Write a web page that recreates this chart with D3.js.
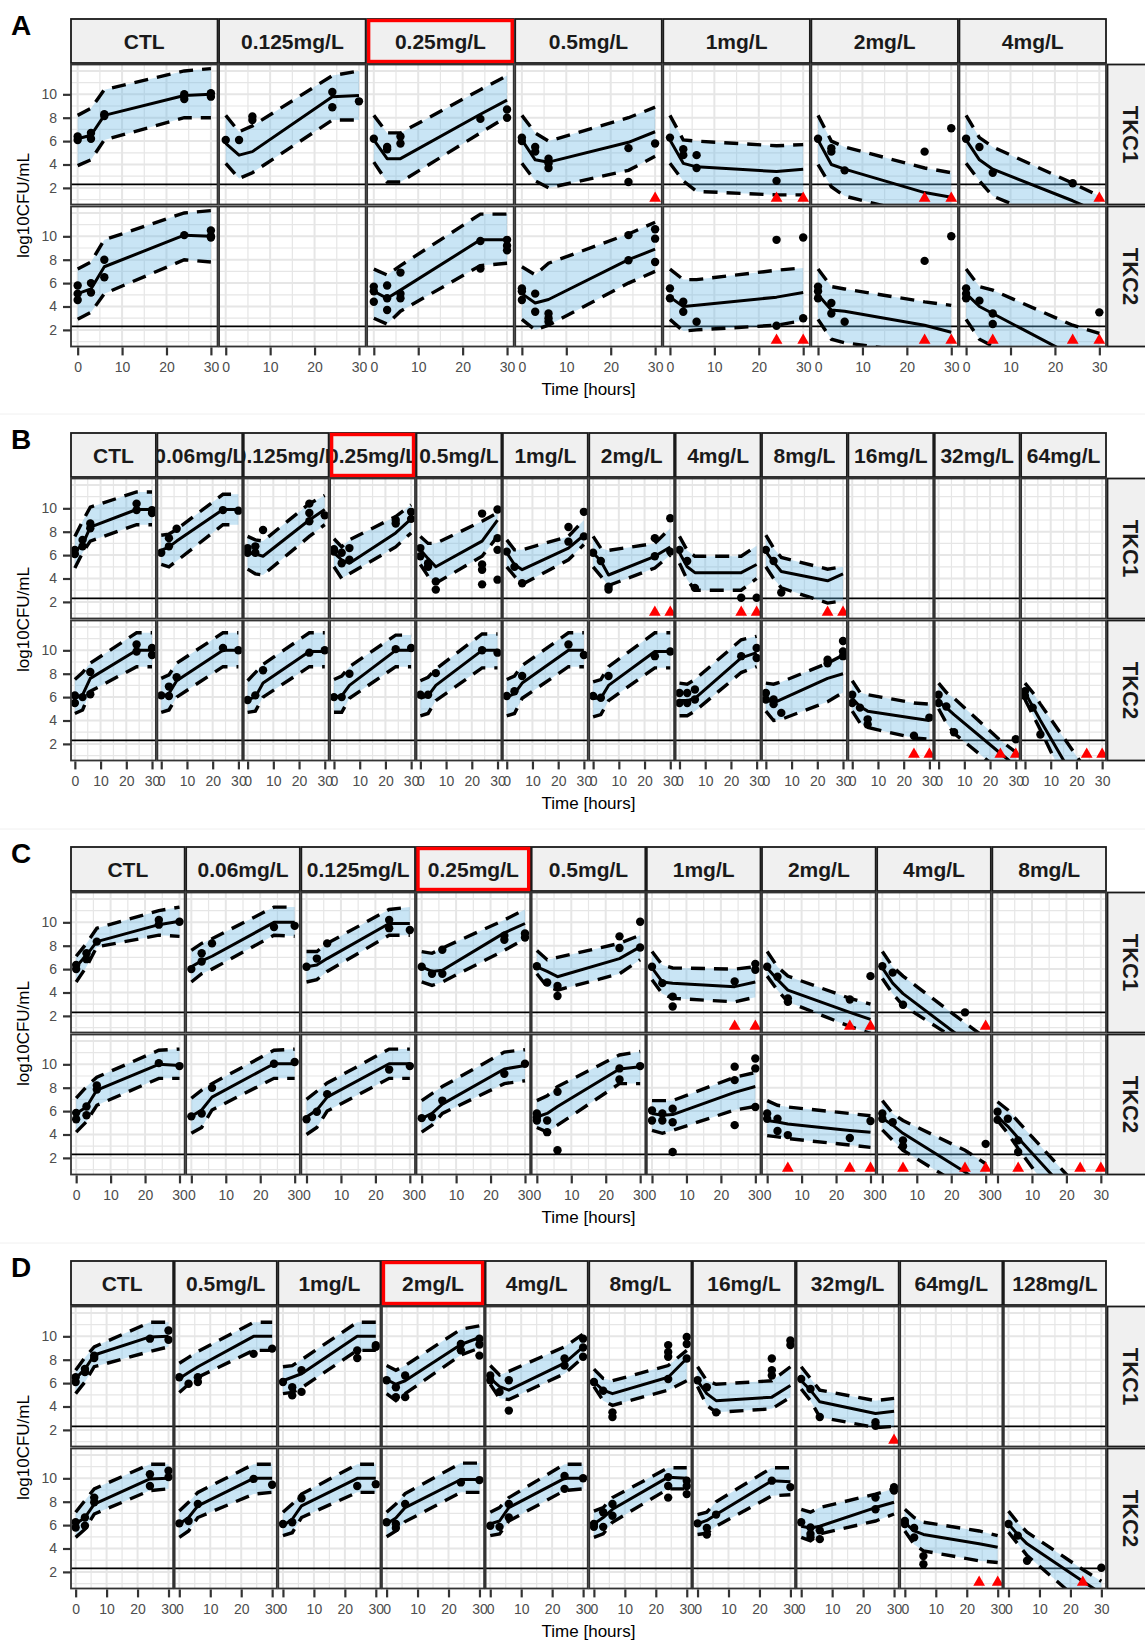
<!DOCTYPE html>
<html>
<head>
<meta charset="utf-8">
<script src="https://cdn.jsdelivr.net/npm/d3@7"></script>
<style>
  body { margin: 0; background: #fff; }
  svg { display: block; font-family: "Liberation Sans", Arial, sans-serif; }
</style>
</head>
<body>
<svg id="chart" width="1145" height="1641"></svg>
<script>
// sampling times (h) shared by every panel
const timesH = [0, 3, 6, 24, 30];
const strains = ["TKC1", "TKC2"];
const yTicks = [2, 4, 6, 8, 10];
const xTicks = [0, 10, 20, 30];
const loqLevel = 2.3;
const blqLevel = 1.1;

// ---------- A ----------
const concA = ["CTL", "0.125mg/L", "0.25mg/L", "0.5mg/L", "1mg/L", "2mg/L", "4mg/L"];
const refA = "0.25mg/L";
const medA1 = [[6.2,6.5,8.2,9.9,10.0],[5.8,4.8,5.1,9.8,9.9],[6.1,4.5,4.5,8.3,9.5],[6.1,4.4,4.2,5.9,6.8],[6.1,4.1,3.8,3.4,3.6],[6.1,4.0,3.6,1.6,1.2],[6.1,4.4,3.6,0.9,-0.1]];
const hiA1 = [[8.2,8.8,10.4,12.0,12.2],[8.2,6.8,7.3,11.6,12.0],[8.2,6.7,6.7,10.4,11.6],[8.2,6.7,6.0,8.0,8.9],[8.2,6.1,6.0,5.6,5.7],[8.2,6.0,5.5,3.7,3.3],[8.2,6.3,5.5,2.4,1.3]];
const loA1 = [[3.9,4.4,6.1,8.0,8.0],[4.1,2.8,3.3,7.8,7.8],[4.2,2.5,2.5,6.7,8.1],[4.1,2.6,2.0,3.5,4.7],[4.1,2.6,1.7,1.4,1.4],[4.0,2.1,1.3,-0.4,-0.7],[4.1,2.6,1.3,-1.5,-2.6]];
const obsA1 = [
  [[6.1,6.4],[6.2,6.7],[8.15,8.3],[9.6,10.0],[9.8,10.1]],
  [[6.1],[6.1],[7.8,8.1],[8.9,10.2],[9.4]],
  [[6.2],[5.3,5.5],[5.8,6.4],[7.9],[8.0,8.7]],
  [[6.0,6.3],[5.1,5.5],[3.7,4.1,4.5],[2.5,5.4],[5.8]],
  [[6.3],[4.8,5.3],[3.7,4.8],[2.6],[]],
  [[6.2],[5.1,5.4],[3.5],[5.1],[7.1]],
  [[6.2],[5.5],[3.3],[2.4],[]]
];
const blqA1 = [[],[],[],[30],[24,30],[24,30],[30]];
const medA2 = [[5.1,5.5,7.4,10.1,10.0],null,[5.3,4.7,5.4,9.7,9.7],[5.1,4.3,4.6,8.0,8.9],[4.8,4.0,4.1,4.8,5.2],[5.0,3.7,3.6,2.4,1.8],[5.1,4.0,3.4,-0.2,-1.4]];
const hiA2 = [[7.2,7.8,9.7,12.0,12.2],null,[7.2,6.7,7.5,11.9,11.9],[7.4,6.7,7.7,10.2,11.2],[7.2,6.3,6.3,7.1,7.3],[7.2,5.7,5.5,4.4,4.1],[7.2,5.7,5.4,2.4,1.7]];
const loA2 = [[2.9,3.5,5.1,8.0,7.8],null,[3.0,2.5,3.6,7.5,7.7],[2.9,2.0,2.4,6.0,7.0],[2.9,1.9,2.0,2.4,2.8],[2.9,1.2,0.9,0.0,-0.3],[2.9,1.2,0.6,-3.0,-4.0]];
const obsA2 = [
  [[4.55,5.1,5.8],[5.2,6.0],[6.5,8.0],[10.1],[9.9,10.0,10.5]],
  null,
  [[4.4,5.3,5.7],[3.7,4.7,5.8],[4.7,5.1,6.9],[7.25,9.6],[8.8,9.2,9.7]],
  [[4.55,5.3,5.55],[3.55,5.1],[2.7,3.0,3.4],[7.95,10.1],[7.8,9.8,10.6]],
  [[4.7,5.55],[3.55,4.4],[2.7],[2.35,9.7],[3.0,9.9]],
  [[4.7,5.3,5.7],[3.4,4.3],[2.7],[7.9],[10.0]],
  [[4.7,5.1,5.55],[4.5],[2.5,3.4],[],[3.5]]
];
const blqA2 = [[],[],[],[],[24,30],[24,30],[6,24,30]];

// ---------- B ----------
const concB = ["CTL", "0.06mg/L", "0.125mg/L", "0.25mg/L", "0.5mg/L", "1mg/L", "2mg/L", "4mg/L", "8mg/L", "16mg/L", "32mg/L", "64mg/L"];
const refB = "0.25mg/L";
const medB1 = [[6.3,6.9,8.4,9.9,9.9],[6.4,6.7,7.2,9.9,9.9],[6.2,6.1,5.9,9.0,9.9],[6.2,5.6,5.3,7.9,9.1],[6.45,5.7,5.0,7.2,9.0],[6.2,5.2,4.75,6.6,7.7],[6.2,5.5,4.3,5.9,6.7],[6.2,5.0,4.5,4.5,5.2],[6.3,5.4,4.6,3.8,4.4],null,null,null];
const hiB1 = [[7.6,8.9,10.1,11.4,11.4],[7.7,7.8,8.2,11.2,11.2],[7.6,7.3,7.2,10.4,11.1],[7.4,6.7,7.3,9.3,10.3],[7.6,7.0,7.0,8.9,9.6],[7.3,6.45,6.45,7.6,9.0],[7.6,6.6,6.4,7.0,8.3],[7.6,6.4,5.9,5.9,6.8],[7.7,6.6,5.8,4.8,5.0],null,null,null];
const loB1 = [[4.9,6.2,7.2,8.6,8.6],[5.2,5.0,5.5,8.6,8.6],[4.8,4.4,4.3,7.6,8.6],[5.0,4.0,4.4,6.7,7.9],[5.2,4.2,3.6,5.9,7.6],[5.0,4.2,3.5,5.6,6.9],[5.0,4.2,3.4,4.9,6.0],[5.3,3.9,3.0,3.0,4.0],[5.0,4.0,3.2,1.9,2.1],null,null,null];
const obsB1 = [
  [[6.1,6.45],[6.75,7.3],[8.3,8.7],[9.85,10.4],[9.6,9.85]],
  [[6.2],[6.75,7.45],[8.25],[9.85],[9.8]],
  [[6.2,6.6],[6.2,6.75],[8.15],[8.9,9.6,10.4],[9.4]],
  [[6.3,6.5],[5.3,6.2],[5.6,6.6],[8.7,9.0],[9.1,9.7]],
  [[5.9,6.6],[5.0,5.3],[3.05,3.75],[3.5,4.75,5.2,9.55],[3.9,6.45,7.45,9.9]],
  [[6.3],[5.0],[3.6],[7.15,8.4],[7.6,9.7]],
  [[6.2],[5.5],[3.05,3.3],[5.9,7.45],[6.3,9.15]],
  [[6.45],[5.5],[3.2],[2.35],[2.35]],
  [[6.45],[5.5],[2.8],[],[]],
  null, null, null
];
const blqB1 = [[],[],[],[],[],[],[24,30],[24,30],[24,30],[],[],[]];
const medB2 = [[5.9,6.2,7.6,10.0,10.0],[6.0,6.3,7.4,10.0,10.0],[5.8,6.0,7.2,9.9,9.9],[6.0,6.1,7.0,10.0,10.0],[5.9,6.1,7.0,10.0,10.0],[6.0,6.3,7.2,10.0,10.0],[5.9,5.9,7.0,9.9,9.9],[5.7,5.7,5.9,9.35,9.8],[5.8,5.5,5.8,7.6,8.0],[5.9,5.2,4.8,4.2,4.0],[5.6,5.1,4.5,1.2,0.1],[6.4,5.2,4.0,-2.8,-5.3]];
const hiB2 = [[7.5,8.1,8.9,11.5,11.5],[7.6,7.9,8.9,11.5,11.5],[7.4,8.1,8.8,11.5,11.5],[7.5,7.8,8.6,11.3,11.3],[7.4,7.7,8.4,11.4,11.4],[7.5,7.8,8.7,11.5,11.5],[7.3,7.5,8.6,11.5,11.5],[7.2,7.1,7.5,10.9,11.2],[7.2,7.1,7.3,8.9,9.6],[7.4,6.4,6.2,5.5,5.4],[7.2,6.4,5.9,2.3,1.3],[7.2,6.4,5.4,-0.3,-2.5]];
const loB2 = [[4.6,4.9,6.5,8.6,8.6],[4.7,4.9,6.0,8.6,8.6],[4.7,4.8,6.0,8.6,8.6],[4.7,4.7,5.9,8.6,8.6],[4.4,4.6,5.7,8.5,8.5],[4.4,4.6,5.9,8.6,8.6],[4.3,4.5,5.7,8.5,8.5],[4.4,4.4,4.8,8.1,8.6],[4.8,4.0,4.1,5.6,6.4],[4.8,3.8,3.4,2.5,2.4],[5.0,3.8,2.9,-0.3,-1.4],[5.8,4.5,3.2,-5.0,-7.5]];
const obsB2 = [
  [[5.5,6.15],[6.0],[6.25,8.15],[9.9,10.5],[9.6,10.2]],
  [[6.15],[6.1,6.9],[7.7],[10.2],[10.0]],
  [[5.75],[6.15],[8.3],[9.8],[10.0]],
  [[6.0],[6.0],[8.0],[10.1],[10.2]],
  [[6.2],[6.2],[8.05],[10.0],[9.8]],
  [[6.1],[6.5],[7.8],[10.5],[9.6]],
  [[6.1],[5.95],[7.8],[9.5],[9.9]],
  [[5.5,6.35],[5.5,6.35],[5.8,6.65],[9.5],[9.35,10.2]],
  [[5.8,6.35],[5.4,5.8],[4.65],[8.9,9.2],[9.5,9.9,10.8]],
  [[5.5,6.2],[5.1],[3.65,4.1],[2.7],[4.25]],
  [[5.5,6.2],[5.2],[3.0],[],[2.4]],
  [[6.1,6.5],[5.1],[2.8],[],[]]
];
const blqB2 = [[],[],[],[],[],[],[],[],[],[24,30],[24,30],[24,30]];

// ---------- C ----------
const concC = ["CTL", "0.06mg/L", "0.125mg/L", "0.25mg/L", "0.5mg/L", "1mg/L", "2mg/L", "4mg/L", "8mg/L"];
const refC = "0.25mg/L";
const medC1 = [[6.2,7.2,8.35,9.8,10.1],[6.2,6.7,7.1,10.0,10.0],[6.2,6.35,6.9,9.9,9.9],[6.2,5.8,5.9,9.1,9.9],[6.2,5.8,5.35,6.9,7.9],[6.1,4.9,4.8,4.5,4.9],[6.1,5.1,4.2,2.3,1.7],[6.1,4.8,3.9,-0.1,-1.5],null];
const hiC1 = [[7.1,8.2,9.5,11.0,11.3],[7.6,8.2,8.6,11.3,11.3],[7.5,7.5,8.2,11.1,11.3],[7.5,7.35,7.8,10.2,11.1],[7.6,6.8,7.0,8.2,8.9],[7.5,6.35,6.1,6.0,6.2],[7.5,6.2,5.4,3.5,3.0],[7.5,6.2,5.4,1.4,0.1],null];
const loC1 = [[4.9,6.2,7.9,8.9,8.8],[4.9,5.6,6.0,8.9,8.8],[4.9,5.1,5.8,8.9,8.9],[4.9,4.6,4.9,7.6,8.6],[5.6,4.5,4.2,5.6,6.8],[5.1,3.9,3.5,3.2,3.6],[5.4,4.2,3.2,1.1,0.5],[5.2,3.9,2.9,-0.5,-1.6],null];
const obsC1 = [
  [[6.0,6.35],[6.85,7.35],[8.35],[9.8,10.2],[10.05]],
  [[6.0],[6.65,7.35],[8.2],[9.6],[9.7]],
  [[6.2],[6.9],[8.2],[9.5,10.2],[9.35]],
  [[6.2],[5.6],[5.6,7.65],[8.5,8.85],[8.7,9.05]],
  [[6.25],[4.85],[3.7,4.55],[7.8,8.8],[7.85,10.05]],
  [[6.2],[4.8],[2.8,3.65],[4.95],[5.95,6.45]],
  [[6.2],[5.35],[3.2,3.5],[3.4],[5.4]],
  [[6.25],[5.7],[2.95],[2.3],[]],
  null
];
const blqC1 = [[],[],[],[],[],[24,30],[24,30],[30],[]];
const medC2 = [[5.8,6.35,7.8,10.0,9.9],[5.55,6.1,7.2,10.05,10.05],[5.5,6.1,7.2,10.05,10.05],[5.35,5.8,6.6,9.6,9.9],[5.5,5.8,6.4,9.6,9.8],[5.8,5.65,5.7,7.6,8.1],[5.2,5.07,4.9,4.35,4.2],[5.4,4.8,4.1,0.8,-0.5],[5.5,4.7,3.7,-2.1,-4.0]];
const hiC2 = [[7.1,8.1,8.9,11.2,11.3],[7.1,7.8,8.35,11.2,11.3],[7.0,7.7,8.4,11.3,11.3],[6.9,7.5,8.1,11.05,11.25],[6.9,7.3,8.1,10.8,11.1],[6.9,6.9,6.9,8.9,9.3],[6.9,6.5,6.35,5.8,5.6],[6.9,5.8,5.2,2.65,1.5],[6.8,6.1,5.1,-0.7,-2.6]];
const loC2 = [[4.2,5.1,6.5,8.8,8.8],[4.1,4.6,6.1,8.8,8.8],[4.0,4.6,6.0,8.8,8.8],[4.2,4.8,5.8,8.35,8.6],[4.6,4.2,4.8,8.35,8.35],[4.35,4.1,4.35,6.1,6.4],[3.9,3.8,3.65,3.1,2.9],[4.4,3.5,2.65,-0.6,-1.7],[5.2,4.1,2.8,-4.4,-6.8]];
const obsC2 = [
  [[5.3,5.85],[5.65,6.4],[7.85,8.2],[10.1],[9.85]],
  [[5.55],[5.8],[8.0],[10.05],[10.2]],
  [[5.3],[5.95],[7.45],[9.55],[9.85]],
  [[5.4],[5.5],[6.9],[9.2],[10.05]],
  [[5.2,5.45,5.8],[4.2,5.2],[2.65,7.65],[8.7,9.65],[9.85]],
  [[5.2,6.05],[5.2,5.8],[2.5,5.05,6.2],[4.8,8.65,9.8],[6.35,9.65,10.5]],
  [[5.35,5.8],[4.3,5.35],[3.95],[3.7],[5.15]],
  [[5.35,5.8],[5.05],[3.0,3.5],[],[3.2]],
  [[5.25,5.95],[5.35],[2.5,3.5],[],[]]
];
const blqC2 = [[],[],[],[],[],[],[6,24,30],[6,24,30],[6,24,30]];

// ---------- D ----------
const concD = ["CTL", "0.5mg/L", "1mg/L", "2mg/L", "4mg/L", "8mg/L", "16mg/L", "32mg/L", "64mg/L", "128mg/L"];
const refD = "2mg/L";
const medD1 = [[6.4,7.2,8.4,9.95,10.0],[6.4,6.9,7.4,10.0,10.0],[6.2,6.5,6.8,10.0,10.0],[6.3,5.9,6.2,9.3,9.9],[6.4,5.7,5.4,7.7,9.1],[6.1,5.4,5.1,6.5,8.1],[6.2,5.1,4.5,4.8,5.8],[6.2,5.4,4.4,3.4,3.6],null,null];
const hiD1 = [[7.1,8.2,9.1,11.2,11.2],[7.7,8.2,8.7,11.2,11.2],[7.4,7.5,8.0,11.2,11.2],[7.5,7.1,7.5,10.6,10.9],[7.5,6.7,7.0,9.1,10.2],[7.2,6.4,6.2,7.5,8.8],[7.4,6.2,5.9,6.2,7.4],[7.4,6.4,5.4,4.5,4.7],null,null];
const loD1 = [[5.1,6.1,7.4,8.7,9.1],[5.2,5.9,6.5,8.8,8.8],[5.1,5.2,5.6,8.8,8.8],[5.1,4.5,5.1,8.4,9.0],[5.9,4.7,4.6,6.8,8.2],[5.7,4.5,4.1,5.4,6.2],[5.7,4.1,3.5,3.8,4.8],[5.5,4.5,3.1,2.2,2.3],null,null];
const obsD1 = [
  [[6.1,6.5],[6.95,7.2],[8.15,8.35],[9.8],[9.7,10.5]],
  [[6.5],[5.95],[6.1,6.5],[8.5],[8.95]],
  [[6.1],[4.95,5.65],[5.25,7.1],[8.15,8.8],[9.1,9.25]],
  [[6.25],[4.8,5.65],[4.8,6.65],[8.8,9.35],[8.35,9.3,9.8]],
  [[6.25,6.65],[5.25],[3.65,6.25],[7.5,8.1],[8.25,9.05,9.8]],
  [[6.1],[5.35],[3.1,3.5],[6.35,8.25,8.65,9.25],[8.1,9.35,9.95]],
  [[6.25],[5.65],[3.5],[6.65,7.1,8.1],[9.25,9.65]],
  [[6.35],[5.5],[3.1],[2.35,2.65],[]],
  null, null
];
const blqD1 = [[],[],[],[],[],[],[],[30],[],[]];
const medD2 = [[6.1,6.65,7.8,9.95,10.0],[6.1,6.65,7.65,10.0,10.0],[5.95,6.5,7.65,10.0,10.0],[6.1,6.6,7.5,9.9,9.9],[6.1,6.35,7.5,10.0,10.0],[6.1,6.65,7.35,10.1,10.0],[6.1,6.4,6.9,9.8,9.7],[5.9,5.75,5.9,7.5,7.95],[6.2,5.5,5.2,4.4,4.1],[6.1,5.2,4.4,1.2,0.15]];
const hiD2 = [[7.1,8.1,9.1,11.2,11.2],[7.2,7.95,8.8,11.2,11.2],[7.1,7.8,8.65,11.2,11.2],[7.1,7.8,8.7,11.3,11.3],[7.1,7.5,8.35,11.2,11.2],[7.2,7.5,8.35,10.9,10.9],[6.9,7.1,8.0,10.9,10.9],[7.35,7.1,7.5,8.65,9.1],[7.35,6.65,6.25,5.5,5.1],[7.2,6.2,5.4,2.2,1.2]];
const loD2 = [[4.95,5.65,6.95,8.95,9.1],[4.95,5.5,6.65,8.65,8.8],[5.1,5.35,6.65,8.8,8.8],[5.0,5.5,6.3,8.8,8.8],[5.1,5.25,6.35,8.95,9.1],[4.95,5.25,6.25,9.1,9.1],[5.2,5.3,5.9,8.5,8.6],[4.95,4.65,5.25,6.35,6.95],[5.5,4.35,3.8,2.95,2.8],[5.4,4.4,3.4,-0.7,-2.1]];
const obsD2 = [
  [[5.8,6.25],[5.95,6.65],[7.95,8.35],[9.35,10.35],[10.1,10.65]],
  [[6.15],[6.35],[7.8],[9.95],[9.45]],
  [[6.1],[6.25],[8.3],[9.35],[9.5]],
  [[6.25],[5.75,6.1],[7.8],[9.65],[9.85]],
  [[5.95],[5.85],[6.65,7.8],[9.1,10.2],[10.0]],
  [[5.85,6.1],[5.85,7.1],[6.8,7.8],[8.35,9.35,10.1],[8.65,9.35,9.8]],
  [[6.15],[5.2,5.75],[6.9],[9.8],[9.25]],
  [[6.25],[4.95,5.25,5.8],[4.8,5.55],[7.35,8.35],[8.95,9.25]],
  [[6.1,6.35],[4.95,5.75],[2.65,3.35],[],[]],
  [[6.1],[5.1],[2.95],[],[2.35]]
];
const blqD2 = [[],[],[],[],[],[],[],[],[24,30],[24]];

const figures = [
  { tag: "A", conc: concA, ref: refA, top: 19,
    rows: [[medA1, hiA1, loA1, obsA1, blqA1], [medA2, hiA2, loA2, obsA2, blqA2]] },
  { tag: "B", conc: concB, ref: refB, top: 433,
    rows: [[medB1, hiB1, loB1, obsB1, blqB1], [medB2, hiB2, loB2, obsB2, blqB2]] },
  { tag: "C", conc: concC, ref: refC, top: 847,
    rows: [[medC1, hiC1, loC1, obsC1, blqC1], [medC2, hiC2, loC2, obsC2, blqC2]] },
  { tag: "D", conc: concD, ref: refD, top: 1261,
    rows: [[medD1, hiD1, loD1, obsD1, blqD1], [medD2, hiD2, loD2, obsD2, blqD2]] }
];

const svg = d3.select("#chart");
const left = 71, right = 1106, gapX = 1.5, gapY = 2;
const stripH = 44, panelH = 140;
const defs = svg.append("defs");
let clipN = 0;

svg.append("rect").attr("width", 1145).attr("height", 1641).attr("fill", "#fff");
[414, 829, 1243].forEach(yy => {
  svg.append("line").attr("x1", 0).attr("x2", 1145).attr("y1", yy).attr("y2", yy)
    .attr("stroke", "#f0f0f0").attr("stroke-width", 1);
});

// clip rect in the local coordinates of the element that uses it
function clip(w, h) {
  const id = "c" + (clipN++);
  defs.append("clipPath").attr("id", id)
    .append("rect").attr("x", 0).attr("y", 0).attr("width", w).attr("height", h);
  return "url(#" + id + ")";
}

figures.forEach(drawFigure);

function drawFigure(f) {
  const n = f.conc.length;
  const colW = (right - left - (n - 1) * gapX) / n;
  const colX = i => left + i * (colW + gapX);
  const panelTop = f.top + stripH + 1.5;
  const rowY = r => panelTop + r * (panelH + gapY);

  const x = d3.scaleLinear().domain([-1.5, 31.5]).range([0, colW]);
  const y = d3.scaleLinear().domain([0.58, 12.55]).range([panelH, 0]);

  const g = svg.append("g");

  // figure letter
  g.append("text").attr("x", 11).attr("y", f.top + 16)
    .attr("font-size", 28).attr("font-weight", "bold").attr("fill", "#000")
    .text(f.tag);

  // column strips
  f.conc.forEach((c, i) => {
    const sg = g.append("g").attr("transform", `translate(${colX(i)},${f.top})`);
    sg.append("rect").attr("width", colW).attr("height", stripH)
      .attr("fill", "#f0f0f0").attr("stroke", "#1a1a1a").attr("stroke-width", 1.8);
    sg.append("g").attr("clip-path", clip(colW, stripH))
      .append("text").attr("x", colW / 2).attr("y", stripH / 2)
      .attr("text-anchor", "middle").attr("dominant-baseline", "central")
      .attr("font-size", 21).attr("font-weight", "bold").attr("fill", "#1a1a1a")
      .text(c);
    if (c === f.ref) {
      sg.append("rect").attr("x", 1.5).attr("y", 1.5)
        .attr("width", colW - 3).attr("height", stripH - 3)
        .attr("fill", "none").attr("stroke", "#ff0000").attr("stroke-width", 3.4);
    }
  });

  // row strips on the right
  strains.forEach((s, r) => {
    g.append("rect").attr("x", right + 1.5).attr("y", rowY(r))
      .attr("width", 60).attr("height", panelH)
      .attr("fill", "#f0f0f0").attr("stroke", "#1a1a1a").attr("stroke-width", 1.8);
    g.append("text")
      .attr("transform", `translate(${right + 24},${rowY(r) + panelH / 2}) rotate(90)`)
      .attr("text-anchor", "middle").attr("dominant-baseline", "central")
      .attr("font-size", 22).attr("font-weight", "bold").attr("fill", "#1a1a1a")
      .text(s);
  });

  const line = d3.line().x((d, k) => x(timesH[k])).y(d => y(d));

  f.rows.forEach((row, r) => {
    const [med, hi, lo, obs, blq] = row;
    f.conc.forEach((c, i) => {
      const px = colX(i), py = rowY(r);
      const p = g.append("g").attr("transform", `translate(${px},${py})`);
      const inner = p.append("g").attr("clip-path", clip(colW, panelH));

      // grid
      d3.range(1, 13).forEach(v => {
        inner.append("line").attr("x1", 0).attr("x2", colW).attr("y1", y(v)).attr("y2", y(v))
          .attr("stroke", "#e6e6e6").attr("stroke-width", v % 2 === 0 ? 2 : 1.2);
      });
      d3.range(0, 31, 5).forEach(v => {
        inner.append("line").attr("y1", 0).attr("y2", panelH).attr("x1", x(v)).attr("x2", x(v))
          .attr("stroke", "#e6e6e6").attr("stroke-width", v % 10 === 0 ? 2 : 1.2);
      });

      // limit of quantification
      inner.append("line").attr("x1", 0).attr("x2", colW).attr("y1", y(loqLevel)).attr("y2", y(loqLevel))
        .attr("stroke", "#000").attr("stroke-width", 1.6);

      if (med[i]) {
        const band = d3.area()
          .x(k => x(timesH[k]))
          .y0(k => y(lo[i][k]))
          .y1(k => y(hi[i][k]));
        inner.append("path").attr("d", band(d3.range(timesH.length)))
          .attr("fill", "rgb(100,180,225)").attr("fill-opacity", 0.35);
        [hi[i], lo[i]].forEach(s => {
          inner.append("path").attr("d", line(s))
            .attr("fill", "none").attr("stroke", "#000").attr("stroke-width", 3.4)
            .attr("stroke-dasharray", "14,9");
        });
        inner.append("path").attr("d", line(med[i]))
          .attr("fill", "none").attr("stroke", "#000").attr("stroke-width", 3)
          .attr("stroke-linejoin", "round");

        const pts = [];
        obs[i].forEach((vals, k) => vals.forEach(v => pts.push([timesH[k], v])));
        inner.selectAll(null).data(pts).join("circle")
          .attr("cx", d => x(d[0])).attr("cy", d => y(d[1])).attr("r", 4.2)
          .attr("fill", "#000");
      }
      inner.selectAll(null).data(blq[i]).join("path")
        .attr("d", d3.symbol(d3.symbolTriangle, 60))
        .attr("transform", d => `translate(${x(d)},${y(blqLevel)})`)
        .attr("fill", "#ff0000");

      p.append("rect").attr("width", colW).attr("height", panelH)
        .attr("fill", "none").attr("stroke", "#333").attr("stroke-width", 1.8);
    });

    // y axis on the first column
    const yAbs = d3.scaleLinear().domain(y.domain()).range([rowY(r) + panelH, rowY(r)]);
    const ya = g.append("g").attr("transform", `translate(${left},0)`)
      .call(d3.axisLeft(yAbs).tickValues(yTicks).tickSize(8).tickPadding(6));
    styleAxis(ya);
  });

  // x axes under the bottom row
  const bottom = rowY(1) + panelH;
  f.conc.forEach((c, i) => {
    const xa = g.append("g").attr("transform", `translate(${colX(i)},${bottom + 0.9})`)
      .call(d3.axisBottom(x).tickValues(xTicks).tickSize(8).tickPadding(7));
    styleAxis(xa);
  });

  // axis titles
  g.append("text")
    .attr("transform", `translate(23,${panelTop + panelH + gapY / 2}) rotate(-90)`)
    .attr("text-anchor", "middle").attr("dominant-baseline", "central")
    .attr("font-size", 17).attr("fill", "#000").text("log10CFU/mL");
  g.append("text").attr("x", (left + right) / 2).attr("y", bottom + 48)
    .attr("text-anchor", "middle").attr("font-size", 17).attr("fill", "#000")
    .text("Time [hours]");
}

function styleAxis(a) {
  a.attr("font-size", 14).attr("font-family", "Liberation Sans, Arial, sans-serif");
  a.select(".domain").remove();
  a.selectAll(".tick line").attr("stroke", "#333").attr("stroke-width", 2.2);
  a.selectAll(".tick text").attr("fill", "#4d4d4d");
}
</script>
</body>
</html>
